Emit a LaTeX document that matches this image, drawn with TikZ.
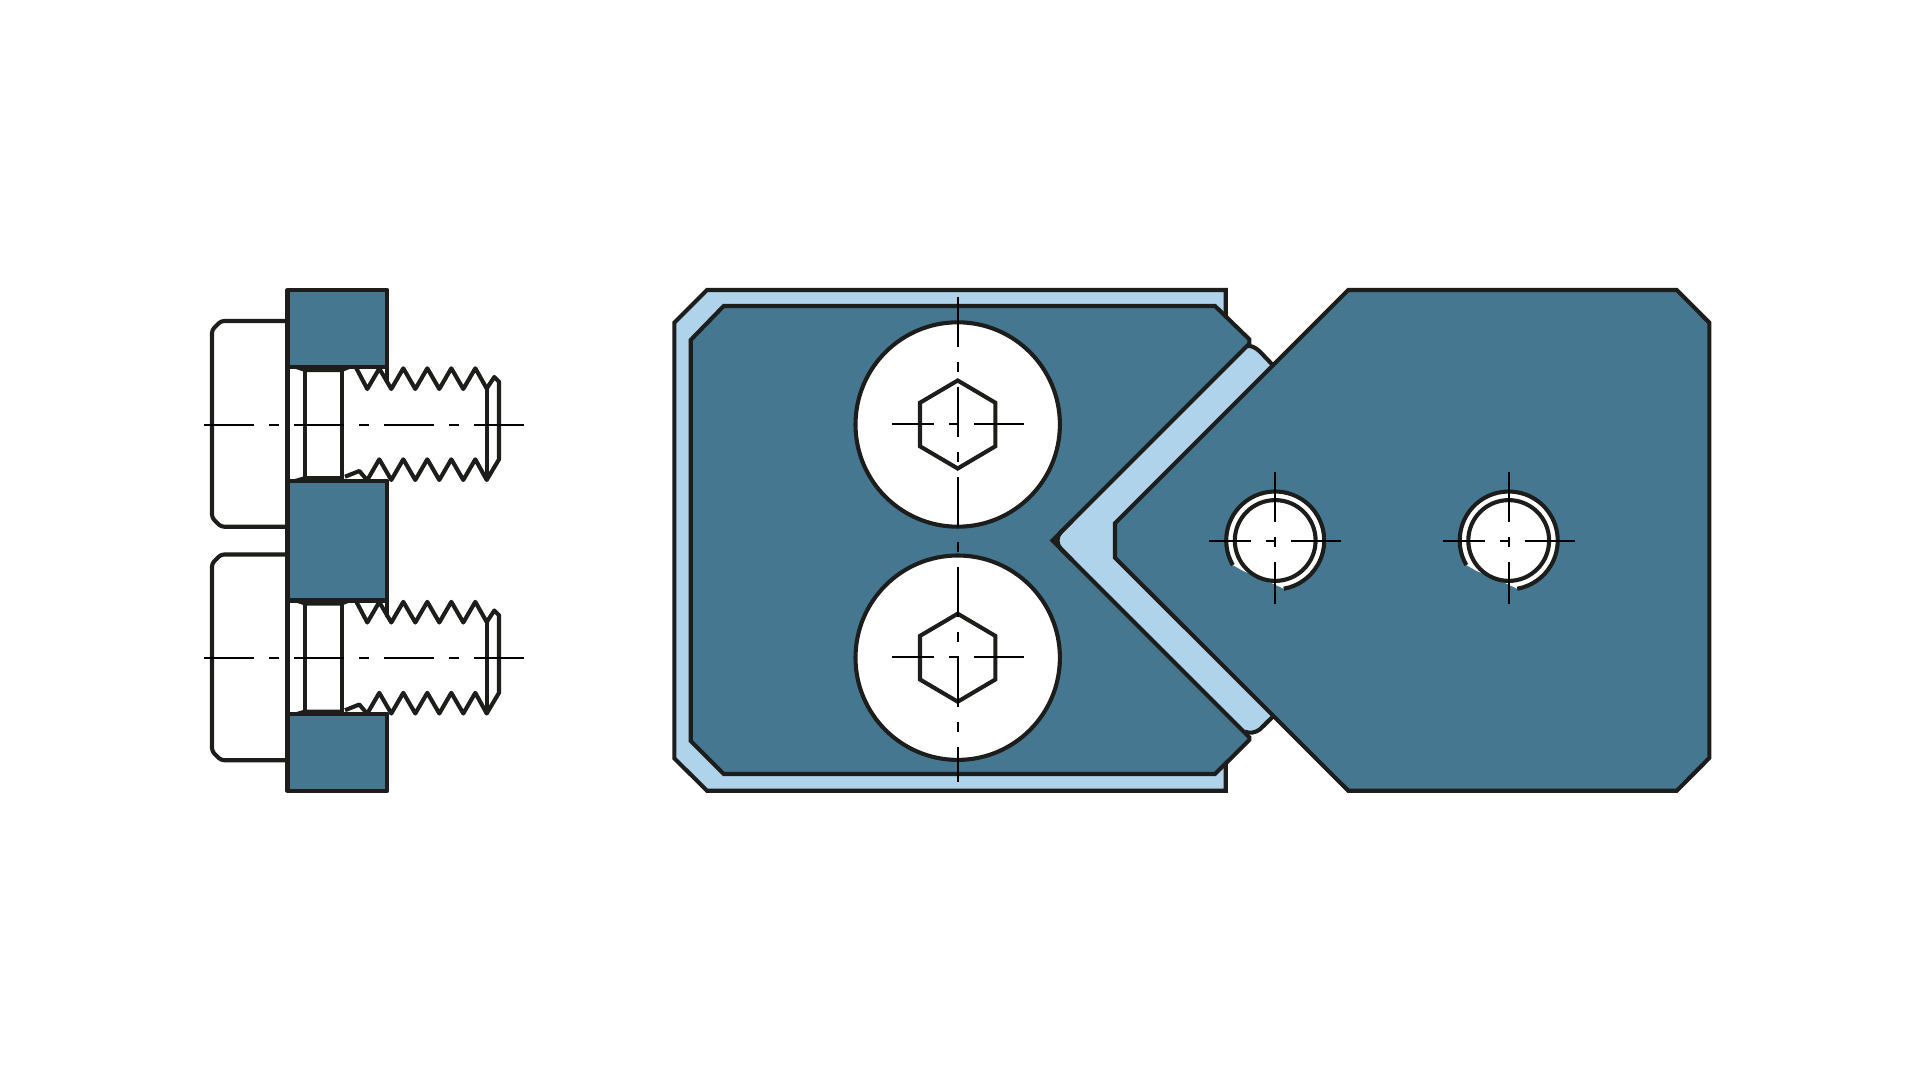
\documentclass[tikz,border=0pt]{standalone}
\definecolor{plate}{HTML}{457890}
\definecolor{pale}{HTML}{AED3EB}
\definecolor{ink}{HTML}{1D1D1B}
\tikzset{
  outl/.style={draw=ink,line width=4.1pt},
  plateshape/.style={outl,fill=plate,line join=miter},
  blockshape/.style={outl,fill=plate,line join=round},
  screwline/.style={outl,line join=round},
  axisline/.style={draw=black,line width=2pt},
  axisdash/.style={axisline,dash pattern=on 50pt off 15pt on 10pt off 15pt}
}
\begin{document}
\begin{tikzpicture}[x=1pt,y=-1pt]
\useasboundingbox[fill=white] (0,0) rectangle (1921,1081);

% ---------- side view: the two screws ----------
\foreach \dy in {0,233.5}{
\begin{scope}[shift={(0,\dy)}]
  \draw[screwline,rounded corners=3pt] (288,321) -- (221,321) -- (212,330) -- (212,517.7) -- (221,526.7) -- (288,526.7);
  \draw[screwline] (287.5,366) -- (287.5,481);
  \draw[screwline] (305.3,370) -- (305.3,478);
  \draw[screwline] (342.3,370) -- (342.3,478);
  \fill[ink] (288,366.5) -- (305,372) -- (342,372) -- (356,366.5) -- cycle;
  \fill[ink] (288,481) -- (305,476) -- (342,476) -- (346,481) -- cycle;
  \draw[screwline] (355.7,367) -- (367.3,389) -- (379.3,368.5) -- (391.3,389) -- (403.3,368.3) -- (415.3,389) -- (427.3,368.3) -- (439.3,389) -- (451.3,368.3) -- (463.3,389) -- (475.3,368.3) -- (486.7,388.5) -- (494.3,377) -- (499,381.7) -- (499,459.3) -- (486.7,480) -- (475.3,459.3) -- (463.3,480) -- (451.3,459.3) -- (439.3,480) -- (427.3,459.3) -- (415.3,480) -- (403.3,459.3) -- (391.3,480) -- (379.3,459.3) -- (367.3,480);
  \draw[screwline] (486.7,388.5) -- (486.7,480);
  \draw[screwline] (387.3,366) -- (387.3,383);
  \draw[screwline] (345,476.7) -- (359.3,471) -- (367,480);
\end{scope}
}
\draw[blockshape] (287.5,290) rectangle (387.3,366.7);
\draw[blockshape] (287.5,480.7) rectangle (387.3,600.5);
\draw[blockshape] (287.5,714.3) rectangle (387.3,791);
\draw[axisdash] (204,425) -- (524,425);
\draw[axisdash] (204,658) -- (524,658);

% ---------- front view: pale frame and V ----------
\fill[pale] (707,290) -- (1225.7,290) -- (1225.7,790.7) -- (707,790.7) -- (674.3,758.3) -- (674.3,322.7) -- cycle;
\fill[pale] (1052.5,540.5) -- (1247,346) .. controls (1251,345.5) and (1255,347) .. (1260,351.7) -- (1272.7,365) -- (1115,523.3) -- (1115,557.7) -- (1272.7,716.7) -- (1260,729.3) .. controls (1255,733) and (1250,733.5) .. (1245,731.7) -- cycle;
\draw[outl,line join=miter] (1225.7,317) -- (1225.7,290) -- (707,290) -- (674.3,322.7) -- (674.3,758.3) -- (707,790.7) -- (1225.7,790.7) -- (1225.7,764);

% left plate
\draw[plateshape] (723.7,306) -- (1215,306) -- (1249.3,339.3) -- (1249.3,343.7) -- (1052.5,540.5) -- (1249.3,737.3) -- (1249.3,740) -- (1215,774) -- (723.7,774) -- (690.7,741) -- (690.7,340) -- cycle;
% rounded inner tip of the V and its two rounded ends
\draw[outl,rounded corners=12pt] (1072,521) -- (1052.5,540.5) -- (1072,560);
\draw[outl] (1247,346) .. controls (1251,345.5) and (1255,347) .. (1260,351.7) -- (1272.7,365);
\draw[outl] (1245,731.7) .. controls (1250,733.5) and (1255,733) .. (1260,729.3) -- (1272.7,716.7);

% right plate
\draw[plateshape] (1348.3,290) -- (1676.7,290) -- (1709.3,322.7) -- (1709.3,758) -- (1676.7,790.7) -- (1348.3,790.7) -- (1115,557.7) -- (1115,523.3) -- cycle;

% large screw heads with hexagon sockets
\foreach \cy in {424.5,657.7}{
  \draw[outl,fill=white] (957.7,\cy) circle[radius=102.2];
  \draw[outl,line join=miter] (957.7,\cy-44) -- (995.3,\cy-21.8) -- (995.3,\cy+21.8) -- (957.7,\cy+44) -- (920,\cy+21.8) -- (920,\cy-21.8) -- cycle;
  \draw[axisline] (892,\cy-0.5) -- (934,\cy-0.5);
  \draw[axisline] (949,\cy-0.5) -- (958.7,\cy-0.5);
  \draw[axisline] (974,\cy-0.5) -- (1024,\cy-0.5);
}
\draw[axisdash] (957.7,296.7) -- (957.7,781.7);

% small holes with open thread arcs
\foreach \cx in {1275.2,1508.7}{
  \fill[white] (\cx,540.5) ++(210:49pt) arc[start angle=210,end angle=-80,radius=49pt] -- (\cx-3.5,583) -- (\cx-32,571) -- cycle;
  \draw[outl] (\cx,540.5) ++(210:49pt) arc[start angle=210,end angle=-80,radius=49pt];
  \draw[outl,fill=white] (\cx,540.5) circle[radius=40.4];
  \draw[axisline] (\cx-66,540.5) -- (\cx-24,540.5);
  \draw[axisline] (\cx-9,540.5) -- (\cx+1,540.5);
  \draw[axisline] (\cx+16,540.5) -- (\cx+66,540.5);
  \draw[axisline] (\cx,472) -- (\cx,522);
  \draw[axisline] (\cx,537) -- (\cx,547);
  \draw[axisline] (\cx,562) -- (\cx,604);
}
\end{tikzpicture}
\end{document}
